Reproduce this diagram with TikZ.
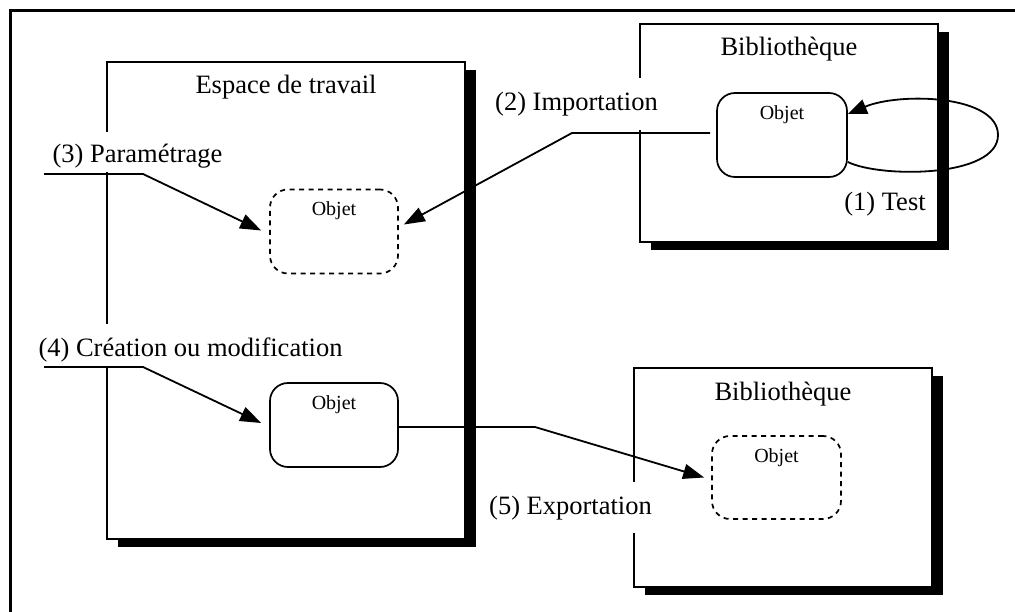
\documentclass[tikz,border=0pt]{standalone}
\usepackage{fontspec}
\setmainfont{Liberation Serif}
\usetikzlibrary{arrows.meta,shadows,calc}
\begin{document}
\begin{tikzpicture}[x=1pt,y=-1pt,
  panel/.style={draw,line width=1.6pt,fill=white,rectangle,inner sep=0pt,
    drop shadow={fill=black,opacity=1,shadow xshift=11pt,shadow yshift=-8pt}},
  objsolid/.style={draw,line width=1.7pt,fill=white,rectangle,rounded corners=18pt,inner sep=0pt,
    minimum width=128pt,minimum height=84pt},
  objdash/.style={objsolid,dash pattern=on 5pt off 4.5pt},
  big/.style={font=\fontsize{26.5}{30}\selectfont,inner sep=0pt,anchor=base},
  small/.style={font=\fontsize{20}{24}\selectfont,inner sep=0pt,anchor=base},
  lbl/.style={big,fill=white,inner xsep=4pt,inner ysep=0pt},
  conn/.style={line width=1.8pt,-{Triangle[length=21pt,width=15pt]}},
  loopline/.style={line width=1.8pt,-{Triangle[length=19pt,width=15pt]}}
]
\clip (0,0) rectangle (1015,612);
\fill[white] (0,0) rectangle (1015,612);
% outer frame
\draw[line width=3pt] (10,630) -- (10,11) -- (1030,11);

% panels
\node[panel,minimum width=358pt,minimum height=477pt] (ws) at (286,300.5) {};
\node[panel,minimum width=298pt,minimum height=218pt] (lib1) at (789,133) {};
\node[panel,minimum width=298pt,minimum height=219pt] (lib2) at (783,477.5) {};

% titles
\node[big] (wst) at (286,94) {Espace de travail};
\node[big] (lib1t) at (789,56) {Bibliothèque};
\node[big] (lib2t) at (783,400) {Bibliothèque};

% labels (white background covers the panel edges)
\node[lbl,text height=31pt,text depth=9pt] (l3) at (137.5,163) {(3) Paramétrage};
\node[lbl,text height=32pt,text depth=11pt] (l4) at (190.5,356) {(4) Création ou modification};
\node[lbl,text height=33pt,text depth=19pt] (l2) at (576.5,111) {(2) Importation};
\node[lbl,text height=32pt,text depth=19pt] (l5) at (570.5,514) {(5) Exportation};
\node[big] (l1) at (885,211) {(1) Test};

% objects
\node[objsolid,minimum width=130pt] (obj1) at (782,135) {};
\node[objdash] (obj2) at (334,231.5) {};
\node[objsolid] (obj3) at (334,425) {};
\node[objdash,minimum width=129pt,minimum height=83pt] (obj4) at (776.5,477.5) {};

\node[small] (t1) at ([yshift=-27pt]obj1.north) {Objet};
\node[small] (t2) at ([yshift=-27pt]obj2.north) {Objet};
\node[small] (t3) at ([yshift=-27pt]obj3.north) {Objet};
\node[small] (t4) at ([yshift=-27pt]obj4.north) {Objet};

% connectors
\coordinate (p3) at (44,174);
\coordinate (p4) at (44,367);
\draw[conn] (p3) -- ++(99,0) -- ([xshift=-8pt,yshift=1pt]obj2.west);
\draw[conn] ([xshift=-6pt,yshift=2pt]obj1.west) -- (572,133) -- ([xshift=5pt,yshift=7pt]obj2.east);
\draw[conn] (p4) -- ++(99,0) -- ([xshift=-8pt,yshift=2pt]obj3.west);
\draw[conn] ([yshift=-2pt]obj3.east) -- (535,427) -- ([xshift=-7pt]obj4.west);
\draw[loopline] ([yshift=-27pt]obj1.east) .. controls (880,178) and (998,178) .. (998,135)
   .. controls (998,95) and (900,92) .. ([yshift=21pt]obj1.east);
\end{tikzpicture}
\end{document}
